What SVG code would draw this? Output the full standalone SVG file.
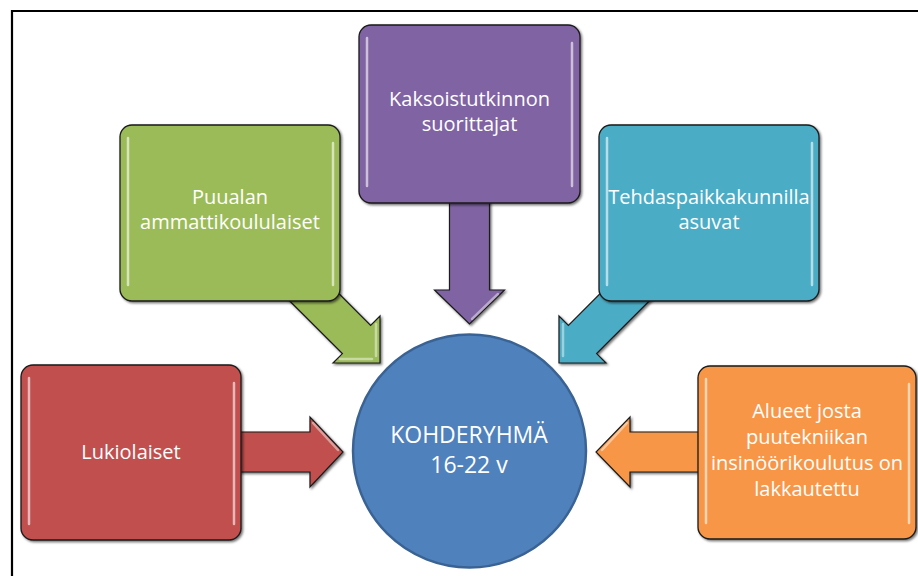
<svg xmlns="http://www.w3.org/2000/svg" width="918" height="576" viewBox="0 0 918 576">
<defs>
<style>
.box{stroke:#1a1a1a;stroke-width:1.3;filter:url(#sh)}
.arr{stroke:#1a1a1a;stroke-width:1.2;stroke-linejoin:miter;filter:url(#sh)}
.hl{stroke:#fff;stroke-opacity:.6;stroke-width:2.5;stroke-linecap:round;fill:none}
.ahl{stroke:#fff;stroke-opacity:.45;stroke-width:2.5;stroke-linecap:round;fill:none}
.t{font-family:"Open Sans","Liberation Sans",sans-serif;font-size:20px;fill:#fff;text-anchor:middle}
.tc{font-family:"Open Sans","Liberation Sans",sans-serif;font-size:23px;fill:#fff;text-anchor:middle}
.red{fill:#C0504D}.green{fill:#9BBB59}.purple{fill:#8064A2}.teal{fill:#4BACC6}.orange{fill:#F79646}
</style>
<filter id="sh" x="-10%" y="-10%" width="120%" height="120%">
<feDropShadow dx="1.5" dy="1.5" stdDeviation="1" flood-color="#000" flood-opacity="0.55"/>
</filter>
</defs>
<rect width="918" height="576" fill="#fff"/>
<path d="M918,11 H12 V576" fill="none" stroke="#000" stroke-width="2.2"/>

<g id="connectors">
<g id="arrow-red">
<polygon class="arr red" points="225,432 310,432 310,417 343,452 310,487 310,472 225,472"/>
<path class="ahl" d="M313,423 L338,450"/>
</g>
<g id="arrow-orange">
<polygon class="arr orange" points="714,432 630,432 630,417 596,452 630,487 630,472 714,472"/>
<path class="ahl" d="M627,423 L602,450"/>
</g>
<g id="arrow-purple">
<polygon class="arr purple" points="449.5,195 449.5,290 434.5,290 469.5,324 504.5,290 489.5,290 489.5,195"/>
<path class="ahl" d="M498,294 L472,319"/>
</g>
<g id="arrow-green">
<polygon class="arr green" points="325.3,280 370.6,325.4 380,316 380,363 333,363 342.4,353.6 268.7,280"/>
<path class="ahl" d="M376,324 L376,356 M340,359 L372,359"/>
</g>
<g id="arrow-teal">
<polygon class="arr teal" points="613.7,280 568.4,325.4 559,316 559,363 606,363 596.6,353.6 670.3,280"/>
<path class="ahl" d="M563,324 L563,356"/>
</g>
</g>

<g id="node-green">
<rect class="box green" x="120" y="125" width="220" height="176" rx="12"/>
<path class="hl" d="M128,138 V285 M333,143 V285"/>
<text class="t" x="230" y="204">Puualan</text>
<text class="t" x="230" y="229">ammattikoululaiset</text>
</g>

<g id="node-purple">
<rect class="box purple" x="359" y="25" width="221" height="178" rx="12"/>
<path class="hl" d="M367,38 V186 M572,43 V186"/>
<text class="t" x="469.5" y="106">Kaksoistutkinnon</text>
<text class="t" x="469.5" y="131">suorittajat</text>
</g>

<g id="node-teal">
<rect class="box teal" x="599" y="125" width="220" height="176" rx="12"/>
<path class="hl" d="M607,138 V285 M812,143 V285"/>
<text class="t" x="709" y="204">Tehdaspaikkakunnilla</text>
<text class="t" x="709" y="229">asuvat</text>
</g>

<g id="node-red">
<rect class="box red" x="21" y="365" width="220" height="175" rx="12"/>
<path class="hl" d="M29,378 V524 M234,383 V524"/>
<text class="t" x="131" y="459">Lukiolaiset</text>
</g>

<g id="node-orange">
<rect class="box orange" x="698" y="366" width="218" height="173" rx="12"/>
<path class="hl" d="M706,379 V523 M909,384 V523"/>
<text class="t" x="807" y="418">Alueet josta</text>
<text class="t" x="807" y="444">puutekniikan</text>
<text class="t" x="807" y="470">insinöörikoulutus on</text>
<text class="t" x="807" y="496">lakkautettu</text>
</g>

<g id="node-center">
<circle cx="469.5" cy="451" r="116.5" fill="#4F81BD" stroke="#3A6394" stroke-width="2.5"/>
<text class="tc" x="469" y="443">KOHDERYHMÄ</text>
<text class="tc" x="469" y="473">16-22 v</text>
</g>
</svg>
